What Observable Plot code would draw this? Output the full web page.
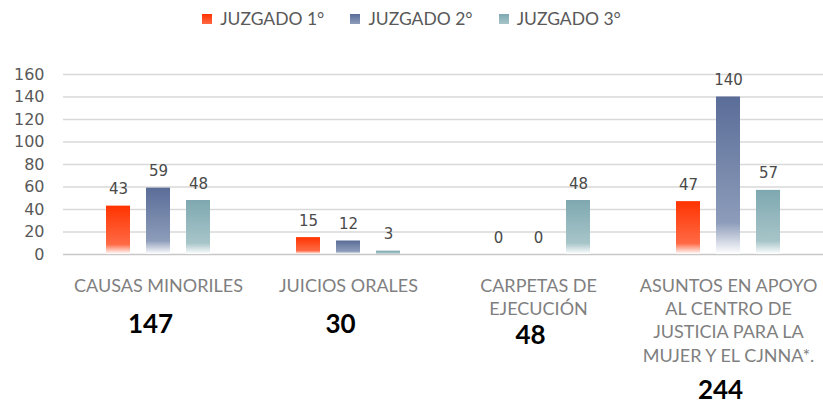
<!DOCTYPE html>
<html><head><meta charset="utf-8">
<script src="https://cdn.jsdelivr.net/npm/d3@7"></script>
<script src="https://cdn.jsdelivr.net/npm/@observablehq/plot@0.6"></script>
<style>
body{margin:0;background:#fff;}
#legend{height:37px;display:flex;justify-content:center;align-items:center;gap:26px;font-family:Lato,sans-serif;font-size:17.5px;color:#595959;padding-left:0px;box-sizing:border-box;}
#legend .item{display:flex;align-items:center;gap:8px;}
#legend .sw{width:10px;height:10px;display:inline-block;}
</style></head><body><div id="legend"></div><div id="chart"></div>
<script>
const categories = ["CAUSAS MINORILES","JUICIOS ORALES","CARPETAS DE\nEJECUCIÓN","ASUNTOS EN APOYO\nAL CENTRO DE\nJUSTICIA PARA LA\nMUJER Y EL CJNNA*."];
const series = ["JUZGADO 1°","JUZGADO 2°","JUZGADO 3°"];
const juzgado1 = [43,15,0,47];
const juzgado2 = [59,12,0,140];
const juzgado3 = [48,3,48,57];
const totals = [147,30,48,244];
const yTicks = [0,20,40,60,80,100,120,140,160];

const colors = ["#ff3300","#5a6d98","#7ea8b0"];
const mids = ["#ff6a45","#8d9cba","#a7c5c9"];
const totalDy = [60,60,71,126];

const values = [juzgado1, juzgado2, juzgado3];
const data = [];
categories.forEach((c,i)=>series.forEach((s,j)=>data.push({cat:c, series:s, value:values[j][i]})));

// legend
const lg = document.getElementById("legend");
series.forEach((s,j)=>{
  const it = document.createElement("div"); it.className="item";
  const sw = document.createElement("span"); sw.className="sw";
  sw.style.background = `linear-gradient(${colors[j]}, ${mids[j]})`;
  const t = document.createElement("span"); t.textContent = s;
  it.append(sw,t); lg.append(it);
});

const totalMarks = categories.map((c,i)=>Plot.text([{cat:c,total:totals[i]}], {
  fx:"cat", text:"total", frameAnchor:"bottom", lineAnchor:"top", dy: totalDy[i], dx:-8,
  fontFamily:"Lato", fontWeight:"bold", fontSize:26, fill:"#000", ariaLabel:"totals"
}));

const svg = Plot.plot({
  width: 823, height: 367,
  marginLeft: 63, marginRight: 0, marginTop: 37, marginBottom: 150,
  style: {fontFamily: "DejaVu Sans", fontSize: "16px", background: "transparent"},
  fx: {domain: categories, padding: 0, axis: null, label: null},
  x: {domain: series, paddingInner: 0.407, paddingOuter: 1.05, axis: null, label: null},
  y: {domain: [0,160], axis: null},
  color: {domain: series, range: ["url(#g0)","url(#g1)","url(#g2)"]},
  marks: [
    Plot.ruleY(yTicks.filter(d=>d>0), {stroke:"#d9d9d9", strokeWidth:1.3}),
    Plot.ruleY([0], {stroke:"#c8c8c8", strokeWidth:1.3}),
    Plot.axisY(yTicks, {tickSize:0, tickPadding:19, label:null, fill:"#595959", fontSize:16}),
    Plot.barY(data, {fx:"cat", x:"series", y:"value", fill:"series"}),
    Plot.text(data, {fx:"cat", x:"series", y:"value", text:"value", lineAnchor:"bottom", dy:-12, fill:"#4a4a4a", fontSize:15}),
    Plot.text(categories, {fx:d=>d, text:d=>d, frameAnchor:"bottom", lineAnchor:"top", dy:21, lineHeight:1.29, fontFamily:"Lato", fontSize:18, fill:"#7f7f7f"}),
    ...totalMarks
  ]
});

const defs = d3.select(svg).insert("defs", ":first-child");
colors.forEach((c,j)=>{
  const g = defs.append("linearGradient").attr("id","g"+j).attr("x1",0).attr("y1",0).attr("x2",0).attr("y2",1);
  g.append("stop").attr("offset","0%").attr("stop-color",c);
  g.append("stop").attr("offset","80%").attr("stop-color",mids[j]);
  g.append("stop").attr("offset","100%").attr("stop-color","#ffffff");
});
d3.select(svg).selectAll('g[aria-label="totals"] text').style("filter","drop-shadow(1px 1px 1px rgba(0,0,0,0.45))");
document.getElementById("chart").append(svg);
</script></body></html>
